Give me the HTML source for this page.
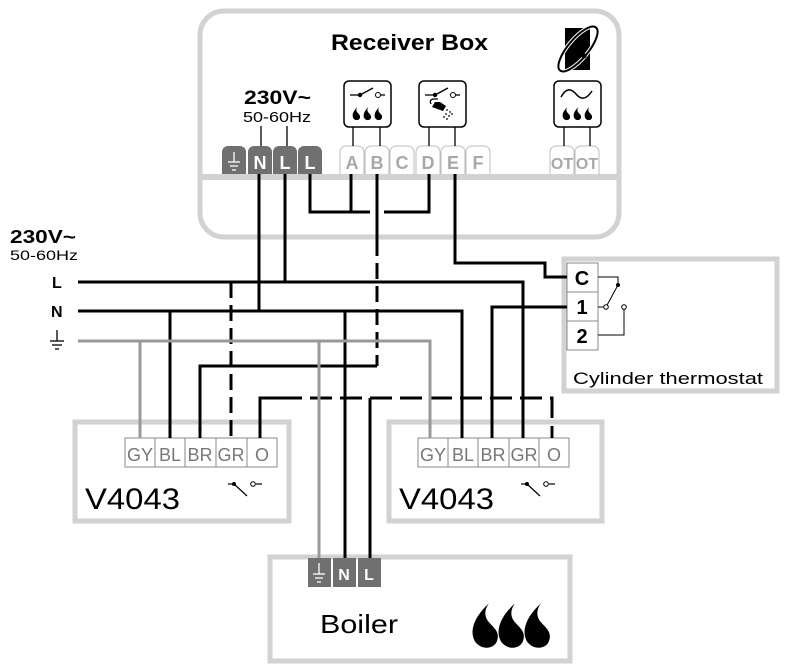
<!DOCTYPE html>
<html><head><meta charset="utf-8"><style>
html,body{margin:0;padding:0;background:#fff;width:788px;height:672px;overflow:hidden}
text{font-family:"Liberation Sans",sans-serif}
</style></head><body>
<svg width="788" height="672" viewBox="0 0 788 672" xmlns="http://www.w3.org/2000/svg">
<defs>
<path id="fl" d="M1.5,-12 C-3,-8 -4.5,-3.5 -2.5,-0.5 C-0.5,2 3.5,1.5 4,-1.5 C4.5,-4 2.5,-5 1,-7 C0,-8.5 0.3,-10.5 1.5,-12Z" fill="#000"/>
</defs>
<!-- Receiver box -->
<rect x="200" y="11" width="419" height="226" rx="24" fill="#fff" stroke="#d2d2d2" stroke-width="5"/>
<rect x="202" y="174" width="415" height="6" fill="#d2d2d2"/>
<text x="331" y="50" font-size="22" font-weight="bold" textLength="157" lengthAdjust="spacingAndGlyphs">Receiver Box</text>
<!-- logo -->
<rect x="565" y="28" width="25" height="42" fill="#000"/>
<ellipse cx="578" cy="49" rx="28" ry="10" transform="rotate(-50 578 49)" fill="none" stroke="#fff" stroke-width="4"/>
<ellipse cx="578" cy="49" rx="28" ry="10" transform="rotate(-50 578 49)" fill="none" stroke="#000" stroke-width="2"/>
<circle cx="584" cy="56" r="2.5" fill="#000"/>
<text x="244" y="104" font-size="19" font-weight="bold" textLength="67" lengthAdjust="spacingAndGlyphs">230V~</text>
<text x="243" y="122" font-size="15" textLength="68" lengthAdjust="spacingAndGlyphs">50-60Hz</text>
<line x1="261" y1="126" x2="261" y2="146" stroke="#000" stroke-width="1.3"/>
<line x1="287" y1="126" x2="287" y2="146" stroke="#000" stroke-width="1.3"/>
<!-- dark terminals -->
<g fill="#707070">
<path d="M222,174V152a6,6 0 0 1 6,-6h12a6,6 0 0 1 6,6V174Z"/>
<path d="M248,174V152a6,6 0 0 1 6,-6h12a6,6 0 0 1 6,6V174Z"/>
<path d="M273,174V152a6,6 0 0 1 6,-6h12a6,6 0 0 1 6,6V174Z"/>
<path d="M298,174V152a6,6 0 0 1 6,-6h12a6,6 0 0 1 6,6V174Z"/>
</g>
<g stroke="#fff" stroke-width="1.3"><line x1="234" y1="152" x2="234" y2="162"/><line x1="228" y1="162" x2="240" y2="162"/><line x1="230" y1="166" x2="238" y2="166"/><line x1="232" y1="170" x2="236" y2="170"/></g>
<g fill="#fff" font-size="18" font-weight="bold" text-anchor="middle"><text x="260" y="169">N</text><text x="285" y="169">L</text><text x="310" y="169">L</text></g>
<!-- light terminals -->
<g fill="#fff" stroke="#bdbdbd" stroke-width="1">
<path d="M340,174V152a6,6 0 0 1 6,-6h12a6,6 0 0 1 6,6V174"/>
<path d="M365,174V152a6,6 0 0 1 6,-6h12a6,6 0 0 1 6,6V174"/>
<path d="M390,174V152a6,6 0 0 1 6,-6h12a6,6 0 0 1 6,6V174"/>
<path d="M416,174V152a6,6 0 0 1 6,-6h12a6,6 0 0 1 6,6V174"/>
<path d="M441,174V152a6,6 0 0 1 6,-6h12a6,6 0 0 1 6,6V174"/>
<path d="M466,174V152a6,6 0 0 1 6,-6h12a6,6 0 0 1 6,6V174"/>
<path d="M550,174V152a6,6 0 0 1 6,-6h12a6,6 0 0 1 6,6V174"/>
<path d="M575,174V152a6,6 0 0 1 6,-6h12a6,6 0 0 1 6,6V174"/>
</g>
<g fill="#a8a8a8" font-size="18" font-weight="bold" text-anchor="middle">
<text x="352" y="169">A</text><text x="377" y="169">B</text><text x="402" y="169">C</text><text x="428" y="169">D</text><text x="453" y="169">E</text><text x="478" y="169">F</text>
<text x="562" y="169" font-size="16">OT</text><text x="587" y="169" font-size="16">OT</text></g>
<!-- icon boxes -->
<g fill="#fff" stroke="#000" stroke-width="1.5">
<rect x="344" y="81" width="47" height="46" rx="5"/>
<rect x="419" y="81" width="47" height="46" rx="5"/>
<rect x="554" y="81" width="47" height="46" rx="5"/>
</g>
<g stroke="#000" stroke-width="1.3">
<line x1="353" y1="127" x2="353" y2="146"/><line x1="380" y1="127" x2="380" y2="146"/>
<line x1="429" y1="127" x2="429" y2="146"/><line x1="455" y1="127" x2="455" y2="146"/>
<line x1="564" y1="127" x2="564" y2="146"/><line x1="590" y1="127" x2="590" y2="146"/>
<line x1="350" y1="95" x2="360" y2="95"/><line x1="360" y1="95" x2="373" y2="88"/><line x1="381" y1="95" x2="385" y2="95"/>
<line x1="425" y1="95" x2="435" y2="95"/><line x1="435" y1="95" x2="448" y2="88"/><line x1="456" y1="95" x2="460" y2="95"/>
</g>
<g fill="#000"><circle cx="360" cy="95" r="2.2"/><circle cx="435" cy="95" r="2.2"/></g>
<g fill="#fff" stroke="#000" stroke-width="1"><circle cx="378" cy="95" r="2.5"/><circle cx="453" cy="95" r="2.5"/></g>
<use href="#fl" transform="translate(356,119)"/><use href="#fl" transform="translate(367,119)"/><use href="#fl" transform="translate(378,119)"/>
<use href="#fl" transform="translate(566,119)"/><use href="#fl" transform="translate(577,119)"/><use href="#fl" transform="translate(588,119)"/>
<path d="M561,97 C566,88 571,88 576,94 C581,100 586,100 592,91" fill="none" stroke="#000" stroke-width="1.5"/>
<!-- shower -->
<path d="M432,107 l3,-5 h5 l6,4 l-3,5 z" fill="#000"/><path d="M431,104 q-2,-4 2,-5 h5" fill="none" stroke="#000" stroke-width="1.3"/>
<g fill="#000"><circle cx="447" cy="110" r="0.9"/><circle cx="450" cy="112" r="0.9"/><circle cx="446" cy="114" r="0.9"/><circle cx="449" cy="116" r="0.9"/><circle cx="452" cy="114" r="0.9"/><circle cx="444" cy="117" r="0.9"/><circle cx="447" cy="119" r="0.9"/></g>
<!-- left supply labels -->
<text x="10" y="243" font-size="18" font-weight="bold" textLength="66" lengthAdjust="spacingAndGlyphs">230V~</text>
<text x="10" y="260" font-size="14" textLength="68" lengthAdjust="spacingAndGlyphs">50-60Hz</text>
<text x="52" y="288" font-size="16" font-weight="bold">L</text>
<text x="51" y="317" font-size="16" font-weight="bold">N</text>
<g stroke="#000" stroke-width="1.3"><line x1="57" y1="330" x2="57" y2="341"/><line x1="50" y1="341" x2="64" y2="341"/><line x1="52" y1="345" x2="62" y2="345"/><line x1="55" y1="349" x2="59" y2="349"/></g>
<!-- Thermostat box -->
<rect x="564" y="259" width="213" height="132" fill="#fff" stroke="#d2d2d2" stroke-width="5"/>
<g fill="#fff" stroke="#888" stroke-width="1"><rect x="567" y="263" width="31" height="29"/><rect x="567" y="292" width="31" height="29"/><rect x="567" y="321" width="31" height="29"/></g>
<g font-size="20" font-weight="bold" text-anchor="middle"><text x="582" y="285">C</text><text x="582" y="314">1</text><text x="582" y="343">2</text></g>
<text x="573" y="384" font-size="17" textLength="190" lengthAdjust="spacingAndGlyphs">Cylinder thermostat</text>
<g stroke="#000" stroke-width="1" fill="none"><path d="M598,277 H618 V285 L606,307"/><path d="M598,307 H604"/><path d="M624,309 V335 H598"/></g>
<circle cx="618" cy="285" r="2" fill="#000"/><g fill="#fff" stroke="#000"><circle cx="606" cy="307" r="2.3"/><circle cx="624" cy="307" r="2.3"/></g>
<!-- V4043 boxes -->
<rect x="75" y="422" width="214" height="99" fill="#fff" stroke="#d2d2d2" stroke-width="5"/>
<rect x="389" y="422" width="213" height="99" fill="#fff" stroke="#d2d2d2" stroke-width="5"/>
<g fill="#fff" stroke="#888" stroke-width="1">
<rect x="125" y="438" width="30" height="29"/><rect x="155" y="438" width="30" height="29"/><rect x="185" y="438" width="31" height="29"/><rect x="216" y="438" width="31" height="29"/><rect x="247" y="438" width="30" height="29"/>
<rect x="418" y="438" width="30" height="29"/><rect x="448" y="438" width="30" height="29"/><rect x="478" y="438" width="31" height="29"/><rect x="509" y="438" width="30" height="29"/><rect x="539" y="438" width="30" height="29"/>
</g>
<g fill="#777" font-size="18" text-anchor="middle">
<text x="140" y="461">GY</text><text x="170" y="461">BL</text><text x="200" y="461">BR</text><text x="231" y="461">GR</text><text x="262" y="461">O</text>
<text x="433" y="461">GY</text><text x="463" y="461">BL</text><text x="493" y="461">BR</text><text x="524" y="461">GR</text><text x="554" y="461">O</text>
</g>
<text x="85" y="509" font-size="30" textLength="95" lengthAdjust="spacingAndGlyphs">V4043</text>
<text x="399" y="509" font-size="30" textLength="95" lengthAdjust="spacingAndGlyphs">V4043</text>
<g stroke="#000" stroke-width="1.2"><line x1="228" y1="484" x2="234" y2="484"/><line x1="234" y1="484" x2="247" y2="496"/><line x1="256" y1="484" x2="262" y2="484"/>
<line x1="521" y1="484" x2="527" y2="484"/><line x1="527" y1="484" x2="540" y2="496"/><line x1="549" y1="484" x2="555" y2="484"/></g>
<g fill="#000"><circle cx="234" cy="484" r="2"/><circle cx="527" cy="484" r="2"/></g>
<g fill="#fff" stroke="#000"><circle cx="253" cy="484" r="2.3"/><circle cx="546" cy="484" r="2.3"/></g>
<!-- Boiler -->
<rect x="270" y="557" width="300" height="104" fill="#fff" stroke="#d2d2d2" stroke-width="5"/>
<rect x="308" y="558" width="23" height="29" fill="#707070"/><rect x="333" y="558" width="23" height="29" fill="#707070"/><rect x="358" y="558" width="23" height="29" fill="#707070"/>
<g stroke="#fff" stroke-width="1.3"><line x1="319" y1="563" x2="319" y2="574"/><line x1="313" y1="574" x2="325" y2="574"/><line x1="315" y1="578" x2="323" y2="578"/><line x1="317" y1="582" x2="321" y2="582"/></g>
<g fill="#fff" font-size="16" font-weight="bold" text-anchor="middle"><text x="344" y="580">N</text><text x="369" y="580">L</text></g>
<text x="320" y="633" font-size="26" textLength="78" lengthAdjust="spacingAndGlyphs">Boiler</text>
<use href="#fl" transform="translate(484,644) scale(3.4)"/><use href="#fl" transform="translate(510,644) scale(3.4)"/><use href="#fl" transform="translate(536,644) scale(3.4)"/>
<!-- wires -->
<g fill="none" stroke="#000" stroke-width="3">
<path d="M310,174 V212 H370 M384,212 H429 V174"/><path d="M351,174 V212"/>
<path d="M259,174 V311"/><path d="M285,174 V282"/>
<path d="M455,174 V263 H545 V277 H567"/>
<path d="M78,282 H523 V438"/>
<path d="M78,311 H462 V438"/>
<path d="M170,311 V438"/>
<path d="M377,174 V240"/>
<path d="M377,240 V366" stroke-dasharray="16,7"/>
<path d="M377,366 H200 V438"/>
<path d="M231,282 V438" stroke-dasharray="16,7"/>
<path d="M345,311 V558"/>
<path d="M260,438 V398 H552 V438" stroke-dasharray="22,8"/>
<path d="M260,438 V398 H300"/>
<path d="M370,398 V558"/>
<path d="M492,438 V307 H567"/>
</g>
<g fill="none" stroke="#999" stroke-width="3">
<path d="M78,341 H430 V438"/><path d="M140,341 V438"/><path d="M319,341 V558"/>
</g>
</svg>
</body></html>
